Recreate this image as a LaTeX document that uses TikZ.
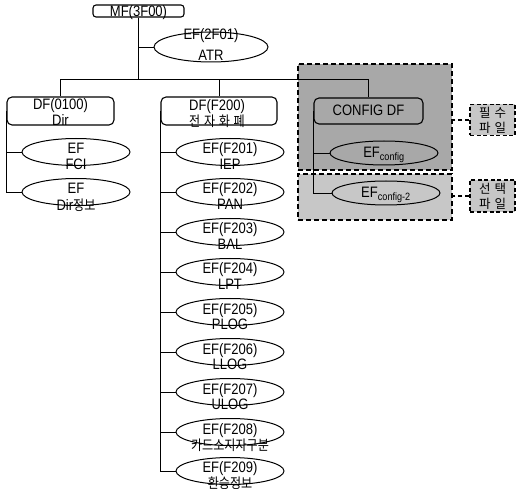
\documentclass[tikz,border=0pt]{standalone}
\usepackage{fontspec}
\usepackage{graphicx}
\setmainfont{Liberation Sans}
\newfontfamily\kr{Noto Sans CJK KR}
\usetikzlibrary{shapes.geometric}
\renewcommand{\arraystretch}{1}
\newcommand{\twoln}[2]{\scalebox{0.93}[1.08]{\begin{tabular}[t]{@{}c@{}}#1\\#2\end{tabular}}}
\newcommand{\oneln}[1]{\scalebox{0.93}[1.08]{#1}}
\newcommand{\krt}[1]{{\kr\fontsize{13}{14}\selectfont #1}}
\definecolor{regd}{gray}{0.66}
\definecolor{regl}{gray}{0.78}
\begin{document}
\begin{tikzpicture}[x=1pt,y=-1pt,
 box/.style={draw, line width=1.1pt, rounded corners=5pt, inner sep=0pt},
 efell/.style={draw, ellipse, line width=1pt, inner sep=0pt, minimum width=108pt, minimum height=27pt},
 txt/.style={inner sep=0pt, anchor=base, font=\fontsize{14}{14}\selectfont},
 conn/.style={line width=0.8pt},
 region/.style={draw, line width=1.2pt, dash pattern=on 5pt off 3pt, inner sep=0pt},
 tag/.style={draw, fill=regl, line width=1.2pt, dash pattern=on 4pt off 2.5pt, minimum width=45pt, minimum height=31pt, inner sep=0pt, align=center, font=\kr\fontsize{12.5}{15}\selectfont},
 tagconn/.style={line width=1.2pt, dash pattern=on 4pt off 3pt},
]
\useasboundingbox (0,0) rectangle (517,489);

% grey regions
\node[region, fill=regd, minimum width=154pt, minimum height=106pt] (reqr) at (375,117) {};
\node[region, fill=regl, minimum width=154pt, minimum height=46pt] (optr) at (375,197) {};

% MF
\node[box, rounded corners=3pt, minimum width=91pt, minimum height=12pt] (mf) at (138.5,11) {};
\node[txt] (mft) at (138.5,17) {\oneln{MF(3F00)}};
\coordinate (bus) at (138.5,80);

% EF(2F01)
\node[efell, minimum width=114pt, minimum height=30pt] (atr) at (211,47) {};
\node[txt, font=\fontsize{14}{19}\selectfont] (atrt) at (211,40) {\twoln{EF(2F01)}{ATR}};

% DF boxes
\node[box, minimum width=107pt, minimum height=28pt] (dfa) at (60.5,111) {};
\node[txt, font=\fontsize{14}{13}\selectfont] (dfat) at (60.5,110) {\twoln{DF(0100)}{Dir}};
\node[box, minimum width=116pt, minimum height=28pt] (dfb) at (219,111) {};
\node[txt, font=\fontsize{14}{13}\selectfont] (dfbt) at (217,110.5) {\twoln{DF(F200)}{\krt{전\hspace{4pt}자\hspace{4pt}화\hspace{4pt}폐}}};
\node[box, minimum width=109pt, minimum height=26pt] (cfg) at (368.5,111) {};
\node[txt] (cfgt) at (368.5,116) {\oneln{CONFIG DF}};

% left column
\node[efell] (fci) at (76,152) {};
\node[txt] (fcit) at (76,154) {\twoln{EF}{FCI}};
\node[efell] (dinf) at (76,192) {};
\node[txt] (dinft) at (76,194) {\twoln{EF}{Dir\krt{정보}}};

% middle column
\node[efell] (e1) at (230,152) {};
\node[txt] (e1t) at (230,154) {\twoln{EF(F201)}{IEP}};
\node[efell] (e2) at (230,192) {};
\node[txt] (e2t) at (230,194) {\twoln{EF(F202)}{PAN}};
\node[efell] (e3) at (230,232) {};
\node[txt] (e3t) at (230,234) {\twoln{EF(F203)}{BAL}};
\node[efell] (e4) at (230,272) {};
\node[txt] (e4t) at (230,274) {\twoln{EF(F204)}{LPT}};
\node[efell] (e5) at (230,312) {};
\node[txt] (e5t) at (230,314) {\twoln{EF(F205)}{PLOG}};
\node[efell] (e6) at (230,352) {};
\node[txt] (e6t) at (230,354) {\twoln{EF(F206)}{LLOG}};
\node[efell] (e7) at (230,392) {};
\node[txt] (e7t) at (230,394) {\twoln{EF(F207)}{ULOG}};
\node[efell] (e8) at (230,432) {};
\node[txt] (e8t) at (230,434) {\twoln{EF(F208)}{\krt{카드소지자구분}}};
\node[efell] (e9) at (230,471) {};
\node[txt] (e9t) at (230,472.5) {\twoln{EF(F209)}{\krt{환승정보}}};

% config ellipses
\node[efell, minimum height=24pt] (efc) at (384,153) {};
\node[txt] (efct) at (384,158) {\oneln{EF\textsubscript{config}}};
\node[efell, minimum height=24pt] (efc2) at (386,193) {};
\node[txt] (efc2t) at (386,198) {\oneln{EF\textsubscript{config-2}}};

% tags
\node[tag] (must) at (492.5,120) {필\hspace{4pt}수\\파\hspace{4pt}일};
\node[tag, minimum height=32pt] (opt) at (492.5,196) {선\hspace{4pt}택\\파\hspace{4pt}일};

% connectors
\draw[conn] (mf.south) -- (bus);
\draw[conn] (atr.west) -- (atr.west -| bus);
\draw[conn] (dfa.north) -- ++(0,-17) -| (cfg.north);
\draw[conn] (dfb.north) -- (dfb.north |- bus);

\draw[conn] (fci.west) -- (fci.west -| dfa.west);
\draw[conn] (dinf.west) -| (dfa.west);

\draw[conn] (e1.west) -- (e1.west -| dfb.west);
\draw[conn] (e2.west) -- (e2.west -| dfb.west);
\draw[conn] (e3.west) -- (e3.west -| dfb.west);
\draw[conn] (e4.west) -- (e4.west -| dfb.west);
\draw[conn] (e5.west) -- (e5.west -| dfb.west);
\draw[conn] (e6.west) -- (e6.west -| dfb.west);
\draw[conn] (e7.west) -- (e7.west -| dfb.west);
\draw[conn] (e8.west) -- (e8.west -| dfb.west);
\draw[conn] (e9.west) -| (dfb.west);

\draw[conn] (efc.west) -- (efc.west -| cfg.west);
\draw[conn] (efc2.west) -| (cfg.west);

\draw[tagconn] (must.west) -- (must.west -| reqr.east);
\draw[tagconn] (opt.west) -- (opt.west -| optr.east);
\end{tikzpicture}
\end{document}
